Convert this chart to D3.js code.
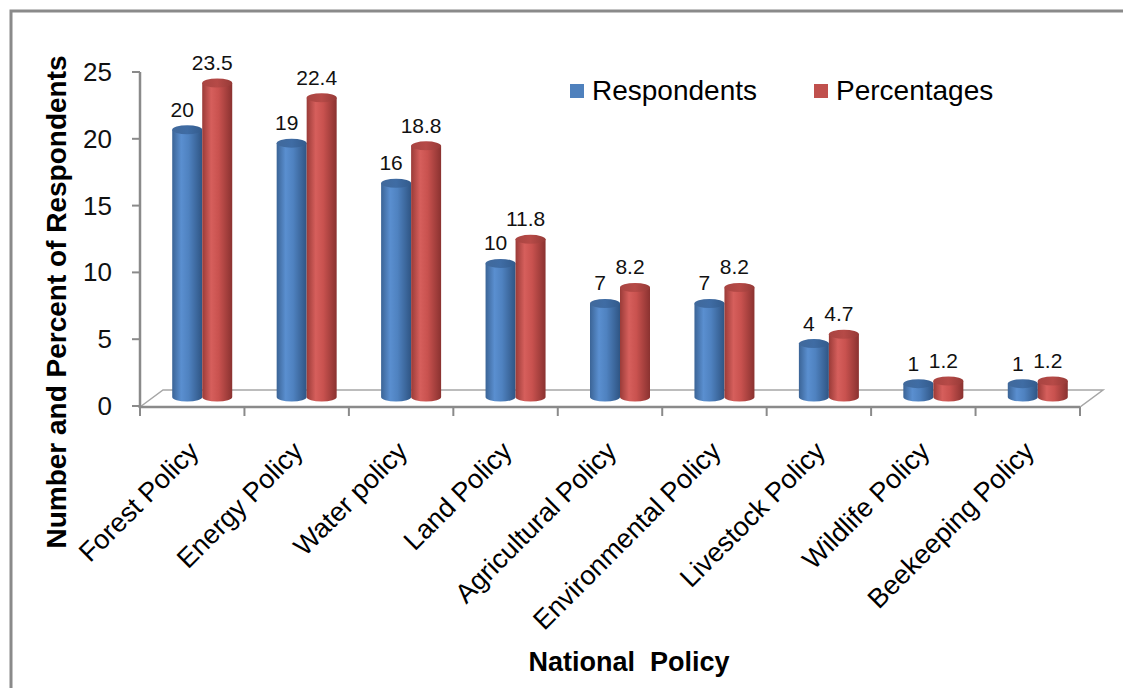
<!DOCTYPE html>
<html>
<head>
<meta charset="utf-8">
<script src="https://cdnjs.cloudflare.com/ajax/libs/d3/7.8.5/d3.min.js"></script>
<style>
  body { margin: 0; background: #fff; }
  svg { display: block; font-family: "Liberation Sans", Arial, sans-serif; }
</style>
</head>
<body>
<svg id="chart" width="1123" height="688"></svg>
<script>
// chart data
var categories = ["Forest Policy", "Energy Policy", "Water policy", "Land Policy",
    "Agricultural Policy", "Environmental Policy", "Livestock Policy",
    "Wildlife Policy", "Beekeeping Policy"];
var respondents = [20, 19, 16, 10, 7, 7, 4, 1, 1];
var percentages = [23.5, 22.4, 18.8, 11.8, 8.2, 8.2, 4.7, 1.2, 1.2];
var seriesNames = ["Respondents", "Percentages"];
var yTicks = [0, 5, 10, 15, 20, 25];

var svg = d3.select("#chart");

// outer frame (cut by the picture edge on right and bottom)
svg.append("rect")
    .attr("x", 11).attr("y", 11)
    .attr("width", 1200).attr("height", 800)
    .attr("fill", "none")
    .attr("stroke", "#8a8a8a")
    .attr("stroke-width", 3);

var x = d3.scaleBand().domain(categories).range([140, 1080]).padding(0);
var y = d3.scaleLinear().domain([0, 25]).range([406, 72]);

// 3d depth of the floor
var depth = {dx: 23, dy: -17};

// gradients for the cylinders
var defs = svg.append("defs");
function makeGrad(id, stops) {
    var g = defs.append("linearGradient").attr("id", id)
        .attr("x1", "0%").attr("x2", "100%").attr("y1", "0%").attr("y2", "0%");
    stops.forEach(function(s) {
        g.append("stop").attr("offset", s[0]).attr("stop-color", s[1]);
    });
}
makeGrad("bodyBlue", [["0%", "#3b6496"], ["30%", "#5a8fd0"], ["55%", "#4f82c0"], ["100%", "#2f5584"]]);
makeGrad("bodyRed", [["0%", "#9a3b38"], ["30%", "#d65f5c"], ["55%", "#c9524f"], ["100%", "#8a3230"]]);
makeGrad("capBlue", [["0%", "#41699b"], ["50%", "#3f6ca4"], ["100%", "#335b8c"]]);
makeGrad("capRed", [["0%", "#a84441"], ["50%", "#b64a47"], ["100%", "#963a37"]]);

// floor
var y0 = y(0) + 1;
svg.append("path")
    .attr("d", "M140," + y0 + " L" + (140 + depth.dx) + "," + (y0 + depth.dy) +
        " L" + (1080 + depth.dx) + "," + (y0 + depth.dy) + " L1080," + y0 + " Z")
    .attr("fill", "#fff")
    .attr("stroke", "#a6a6a6")
    .attr("stroke-width", 1.5);

// y axis
var yAxis = svg.append("g");
yAxis.append("line")
    .attr("x1", 140).attr("x2", 140)
    .attr("y1", y(25)).attr("y2", y(0) + 2)
    .attr("stroke", "#8a8a8a").attr("stroke-width", 2.5);
yAxis.selectAll(".tick").data(yTicks).enter().append("line")
    .attr("x1", 132).attr("x2", 140)
    .attr("y1", function(d) { return y(d); })
    .attr("y2", function(d) { return y(d); })
    .attr("stroke", "#8a8a8a").attr("stroke-width", 2);
yAxis.selectAll(".lbl").data(yTicks).enter().append("text")
    .attr("x", 112)
    .attr("y", function(d) { return y(d) + 9; })
    .attr("text-anchor", "end")
    .attr("font-size", 26)
    .attr("fill", "#111")
    .text(function(d) { return d; });

// x axis
svg.append("line")
    .attr("x1", 140).attr("x2", 1080)
    .attr("y1", y(0) + 1).attr("y2", y(0) + 1)
    .attr("stroke", "#8a8a8a").attr("stroke-width", 2.5);
svg.selectAll(".xtick").data(d3.range(categories.length + 1)).enter().append("line")
    .attr("x1", function(i) { return 140 + i * x.bandwidth(); })
    .attr("x2", function(i) { return 140 + i * x.bandwidth(); })
    .attr("y1", y(0) + 1).attr("y2", y(0) + 10)
    .attr("stroke", "#8a8a8a").attr("stroke-width", 2);

// cylinders
var rx = 15, ry = 4.5;
var base = y(0) - 9;
function drawSeries(values, idx, body, cap) {
    var g = svg.append("g").attr("class", "series-" + idx);
    var cxOf = function(d, i) {
        return x(categories[i]) + x.bandwidth() / 2 + 10 + (idx === 0 ? -rx : rx);
    };
    var topOf = function(d) { return y(d) - 9; };
    g.selectAll("path.body").data(values).enter().append("path")
        .attr("class", "body")
        .attr("d", function(d, i) {
            var c = cxOf(d, i), t = topOf(d);
            return "M" + (c - rx) + "," + t + " L" + (c - rx) + "," + base +
                " A" + rx + "," + ry + " 0 0 0 " + (c + rx) + "," + base +
                " L" + (c + rx) + "," + t + " Z";
        })
        .attr("fill", "url(#" + body + ")");
    g.selectAll("ellipse").data(values).enter().append("ellipse")
        .attr("cx", cxOf)
        .attr("cy", topOf)
        .attr("rx", rx).attr("ry", ry)
        .attr("fill", "url(#" + cap + ")");
    g.selectAll("text").data(values).enter().append("text")
        .attr("x", function(d, i) { return cxOf(d, i) - 5; })
        .attr("y", function(d) { return topOf(d) - 13; })
        .attr("text-anchor", "middle")
        .attr("font-size", 21)
        .attr("fill", "#111")
        .text(function(d) { return d; });
}
drawSeries(respondents, 0, "bodyBlue", "capBlue");
drawSeries(percentages, 1, "bodyRed", "capRed");

// category labels
svg.selectAll(".cat").data(categories).enter().append("text")
    .attr("transform", function(d) {
        return "translate(" + (x(d) + x.bandwidth() / 2 + 8) + ",453) rotate(-45)";
    })
    .attr("text-anchor", "end")
    .attr("font-size", 27)
    .attr("fill", "#000")
    .text(function(d) { return d; });

// axis titles
svg.append("text")
    .attr("transform", "translate(66,302) rotate(-90)")
    .attr("text-anchor", "middle")
    .attr("font-size", 28)
    .attr("font-weight", "bold")
    .text("Number and Percent of Respondents");
svg.append("text")
    .attr("x", 629).attr("y", 671)
    .attr("text-anchor", "middle")
    .attr("font-size", 27)
    .attr("font-weight", "bold")
    .style("white-space", "pre")
    .text("National  Policy");

// legend
var legendX = [570, 814];
var legendCol = ["#4f81bd", "#c0504d"];
seriesNames.forEach(function(name, i) {
    svg.append("rect")
        .attr("x", legendX[i]).attr("y", 84)
        .attr("width", 14).attr("height", 14)
        .attr("fill", legendCol[i]);
    svg.append("text")
        .attr("x", legendX[i] + 22).attr("y", 100)
        .attr("font-size", 28)
        .text(name);
});
</script>
</body>
</html>
